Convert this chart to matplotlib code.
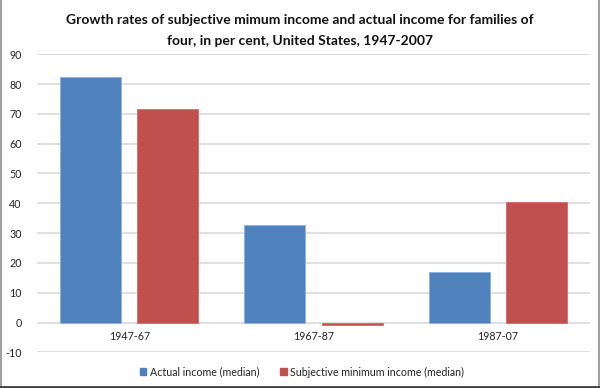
import matplotlib
matplotlib.use("Agg")
import matplotlib.pyplot as plt
from matplotlib.patches import Rectangle
from matplotlib.lines import Line2D
import numpy as np

categories = ["1947-67", "1967-87", "1987-07"]
actual_income = [82.5, 32.6, 16.8]
subjective_min_income = [71.6, -0.8, 40.4]
series_names = ["Actual income (median)", "Subjective minimum income (median)"]
yticks = list(range(-10, 91, 10))

plt.rcParams['font.family'] = ['Lato', 'DejaVu Sans']

fig = plt.figure(figsize=(6.0, 3.88), dpi=100)
W, H = 600, 388
ax = fig.add_axes([37 / W, 1 - 352.3 / H, (590 - 37) / W, (352.3 - 54.3) / H])

x = np.arange(len(categories))
bw = 0.331
off = 0.209
blue = "#4F81BD"
red = "#C0504D"
ax.bar(x - off, actual_income, bw, color=blue, edgecolor="#8EB4E3", linewidth=0.6,
       label=series_names[0], zorder=3)
ax.bar(x + off, subjective_min_income, bw, color=red, edgecolor="#E06666", linewidth=0.6,
       label=series_names[1], zorder=3)

ax.set_xlim(-0.5, 2.5)
ax.set_ylim(-10, 90)
ax.set_yticks(yticks)
ax.set_yticklabels([str(t) for t in yticks], fontsize=7.7, color="#222222")
ax.set_xticks([])
for i, c in enumerate(categories):
    ax.text(i, -4.7, c, ha="center", va="center", fontsize=7.7, color="#222222")
ax.yaxis.grid(True, color="#D9D9D9", linewidth=1.2, zorder=0)
ax.tick_params(axis="y", length=0, pad=11)
for s in ax.spines.values():
    s.set_visible(False)

fig.text(0.5, 1 - 20 / H, "Growth rates of subjective mimum income and actual income for families of",
         ha="center", va="center", fontsize=10, fontweight="bold", color="#111111")
fig.text(0.5, 1 - 41 / H, "four, in per cent, United States, 1947-2007",
         ha="center", va="center", fontsize=10, fontweight="bold", color="#111111")

handles = [Rectangle((0, 0), 1, 1, color=blue), Rectangle((0, 0), 1, 1, color=red)]
fig.legend(handles, series_names, loc="center", bbox_to_anchor=(302 / W, 1 - 372 / H),
           ncol=2, frameon=False, fontsize=7.7, handlelength=0.6, handleheight=0.6,
           handletextpad=0.3, columnspacing=2.0, labelcolor="#222222")

# figure border
fig.add_artist(Line2D([0.5 / W, 0.5 / W], [0, 1], color="#A0A0A0", linewidth=1.5, transform=fig.transFigure))
fig.add_artist(Line2D([1 - 1.0 / W, 1 - 1.0 / W], [0, 1], color="#A0A0A0", linewidth=1.5, transform=fig.transFigure))
fig.add_artist(Line2D([0, 1], [1.0 / H, 1.0 / H], color="#404040", linewidth=2, transform=fig.transFigure))

fig.savefig("out.png", dpi=100)
